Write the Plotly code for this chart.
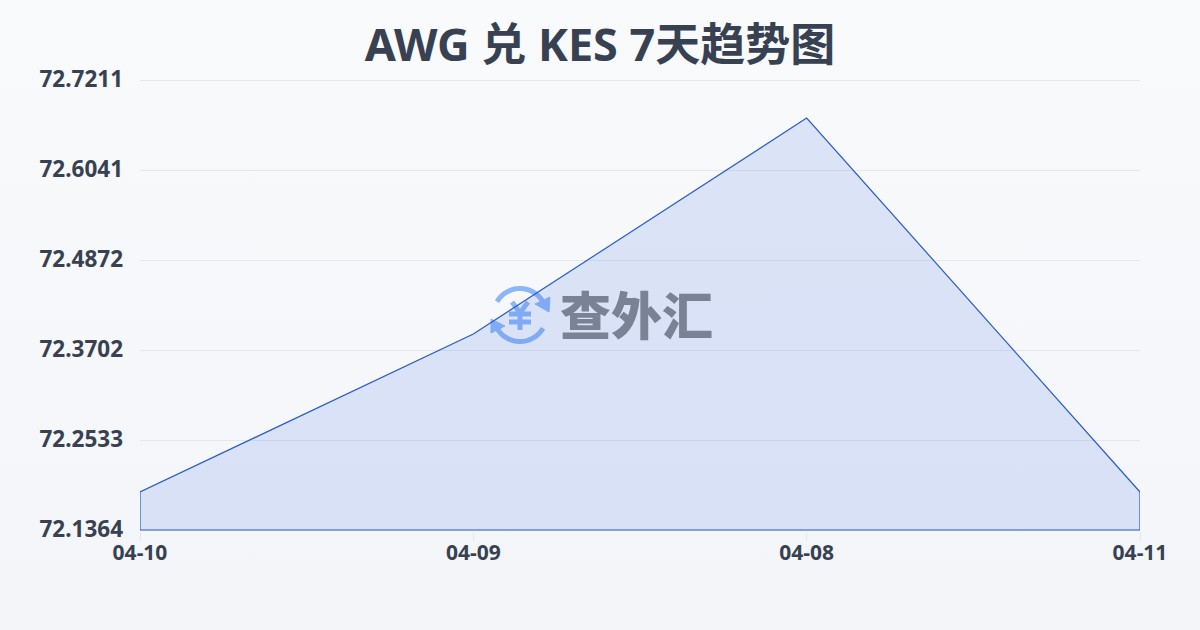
import numpy as np
import plotly.graph_objects as go

dates = ["04-10", "04-09", "04-08", "04-11"]
rates = [72.1858, 72.3910, 72.6717, 72.1858]
y_ticks = [72.1364, 72.2533, 72.3702, 72.4872, 72.6041, 72.7211]
baseline = 72.1364
title_text = "AWG 兑 KES 7天趋势图"
brand = "查外汇"

INK = "#374151"
FONT = "'Noto Sans', 'Noto Sans CJK SC', sans-serif"
W, H = 1200, 630
L, T, PW, PH = 140, 77, 1000, 455
PAD = (y_ticks[-1] - y_ticks[0]) / 450


def px(x, y):
    return (x - L) / PW, 1 - (y - T) / PH


def path_from(points, close=False):
    parts = []
    for i, (x, y) in enumerate(points):
        a, b = px(x, y)
        parts.append(("M" if i == 0 else "L") + f"{a:.5f},{b:.5f}")
    return " ".join(parts) + (" Z" if close else "")


def arc(cx, cy, r, a0, a1):
    t = np.radians(np.linspace(a0, a1, 40))
    return list(zip(cx + r * np.cos(t), cy + r * np.sin(t)))


ICON = "#8db6f7"
cx, cy = 520, 315
shapes = []
for a0, a1 in [(-150, -25), (30, 155)]:
    shapes.append(dict(type="path", path=path_from(arc(cx, cy, 26.5, a0, a1)),
                       line=dict(color=ICON, width=5), xref="paper", yref="paper", layer="below"))
for pts in [
    [(550, 297), (549, 312), (535, 304)],
    [(491, 333), (491, 319), (505, 326)],
]:
    shapes.append(dict(type="path", path=path_from(pts, True), fillcolor=ICON,
                       line=dict(color=ICON, width=1), xref="paper", yref="paper", layer="below"))
for pts in [
    [(512, 302), (520, 313), (528, 302)],
    [(520, 313), (520, 330)],
    [(509, 314), (531, 314)],
    [(509, 322), (531, 322)],
]:
    shapes.append(dict(type="path", path=path_from(pts),
                       line=dict(color=ICON, width=5), xref="paper", yref="paper", layer="below"))

fig = go.Figure()
fig.add_trace(go.Scatter(
    x=dates + [dates[-1], dates[0], dates[0]],
    y=rates + [baseline, baseline, rates[0]],
    mode="lines",
    line=dict(color="#2a5cc9", width=1.2),
    fill="toself",
    fillcolor="rgba(59,110,225,0.15)",
    hoverinfo="skip",
    cliponaxis=False,
    showlegend=False,
))

bx, by = px(636, 313)
fig.update_layout(
    width=W, height=H,
    margin=dict(l=L, r=W - L - PW, t=T, b=H - T - PH),
    paper_bgcolor="rgba(0,0,0,0)",
    plot_bgcolor="rgba(0,0,0,0)",
    title=dict(text=title_text, x=0.5, xanchor="center", y=1 - 45 / H, yanchor="middle",
               font=dict(family=FONT, size=45, color=INK, weight="bold")),
    xaxis=dict(type="category", categoryorder="array", categoryarray=dates,
               range=[0, 3], showgrid=False, zeroline=False, showline=False,
               ticks="outside", ticklen=8, tickcolor="#e5e7eb", tickwidth=1,
               ticklabelstandoff=-6,
               tickfont=dict(family=FONT, size=21, color=INK, weight="bold")),
    yaxis=dict(range=[y_ticks[0] - 2 * PAD, y_ticks[-1] + 3 * PAD], tickvals=y_ticks,
               ticktext=[f"{v:.4f}" for v in y_ticks],
               showgrid=True, gridcolor="#e5e7eb", gridwidth=1, zeroline=False, showline=False,
               ticks="", ticklabelstandoff=16, ticklabelshift=-1,
               tickfont=dict(family=FONT, size=22.5, color=INK, weight="bold")),
    shapes=shapes,
    annotations=[dict(text=brand, xref="paper", yref="paper", x=bx, y=by,
                      xanchor="center", yanchor="middle", showarrow=False,
                      font=dict(family="Noto Sans CJK SC", size=51, color="#7a8295", weight=900))],
)

fig.write_html(
    "out.html",
    config=dict(displayModeBar=False),
    post_script=(
        "document.documentElement.style.margin='0';"
        "document.body.style.margin='0';"
        "document.body.style.background='linear-gradient(180deg,#f8fafc 0%,#f3f5f8 100%)';"
        "document.body.style.height='630px';document.body.style.overflow='hidden';"
    ),
)
